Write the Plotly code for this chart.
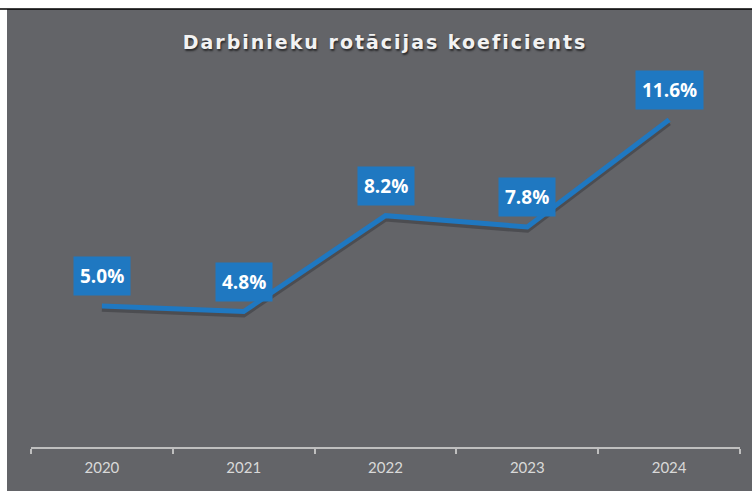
import plotly.graph_objects as go

years = ["2020", "2021", "2022", "2023", "2024"]
rates = [5.0, 4.8, 8.2, 7.8, 11.6]
labels = ["5.0%", "4.8%", "8.2%", "7.8%", "11.6%"]
title_text = "Darbinieku rotācijas koeficients"

W, H = 752, 491
ML, MR, MT, MB = 31, 12, 52, 44
pw = W - ML - MR
ph = H - MT - MB

BG = "#636468"
BLUE = "#1F78C1"

def px_x(p):
    return (p - ML) / pw

def px_y(p):
    return (H - MB - p) / ph

fig = go.Figure()

# subtle shadow under the line
fig.add_trace(go.Scatter(
    x=years, y=[v - 0.1 for v in rates], mode="lines",
    line=dict(color="rgba(35,35,40,0.35)", width=6),
    hoverinfo="skip", showlegend=False,
))
fig.add_trace(go.Scatter(
    x=years, y=rates, mode="lines",
    line=dict(color=BLUE, width=5),
    showlegend=False,
))

for i, (v, lab) in enumerate(zip(rates, labels)):
    fig.add_annotation(
        x=i, y=v, xref="x", yref="y", text="<b>%s</b>" % lab, showarrow=False,
        yshift=30, bgcolor=BLUE, borderpad=6,
        font=dict(family="Open Sans", size=19, color="white"),
    )

# frame: white strip on top/left with a thin black line
shapes = [
    dict(type="rect", xref="paper", yref="paper",
         x0=px_x(0), x1=px_x(W), y0=px_y(0), y1=px_y(9),
         fillcolor="white", line=dict(width=0), layer="above"),
    dict(type="rect", xref="paper", yref="paper",
         x0=px_x(0), x1=px_x(7), y0=px_y(0), y1=px_y(H),
         fillcolor="white", line=dict(width=0), layer="above"),
    dict(type="line", xref="paper", yref="paper",
         x0=px_x(0), x1=px_x(W), y0=px_y(9), y1=px_y(9),
         line=dict(color="black", width=1.5), layer="above"),
]

fig.update_layout(
    width=W, height=H,
    margin=dict(l=ML, r=MR, t=MT, b=MB),
    paper_bgcolor=BG, plot_bgcolor=BG,
    shapes=shapes,
    title=dict(
        text="<b>%s</b>" % title_text, x=0.512, xanchor="center",
        y=1 - 42 / H, yanchor="middle",
        font=dict(family="DejaVu Sans", size=19, color="#f2f2f2",
                  shadow="1px 2px 2px rgba(0,0,0,0.6)"),
    ),
    xaxis=dict(
        type="category", range=[-0.5, 4.5],
        showline=True, linecolor="#bfbfbf", linewidth=1.5,
        ticks="outside", tickson="boundaries", ticklen=5,
        tickcolor="#bfbfbf", tickwidth=1.5,
        showgrid=False, zeroline=False,
        tickfont=dict(family="Lato", size=15, color="#d9d9d9"),
        ticklabelstandoff=6,
    ),
    yaxis=dict(
        range=[0, 14], visible=False, showgrid=False, zeroline=False,
    ),
)

post = (
    "document.body.style.margin='0';"
    "document.querySelectorAll('.gtitle').forEach(function(t){"
    "t.style.letterSpacing='2px';});"
)
fig.write_html("out.html", config={"displayModeBar": False}, post_script=post)
